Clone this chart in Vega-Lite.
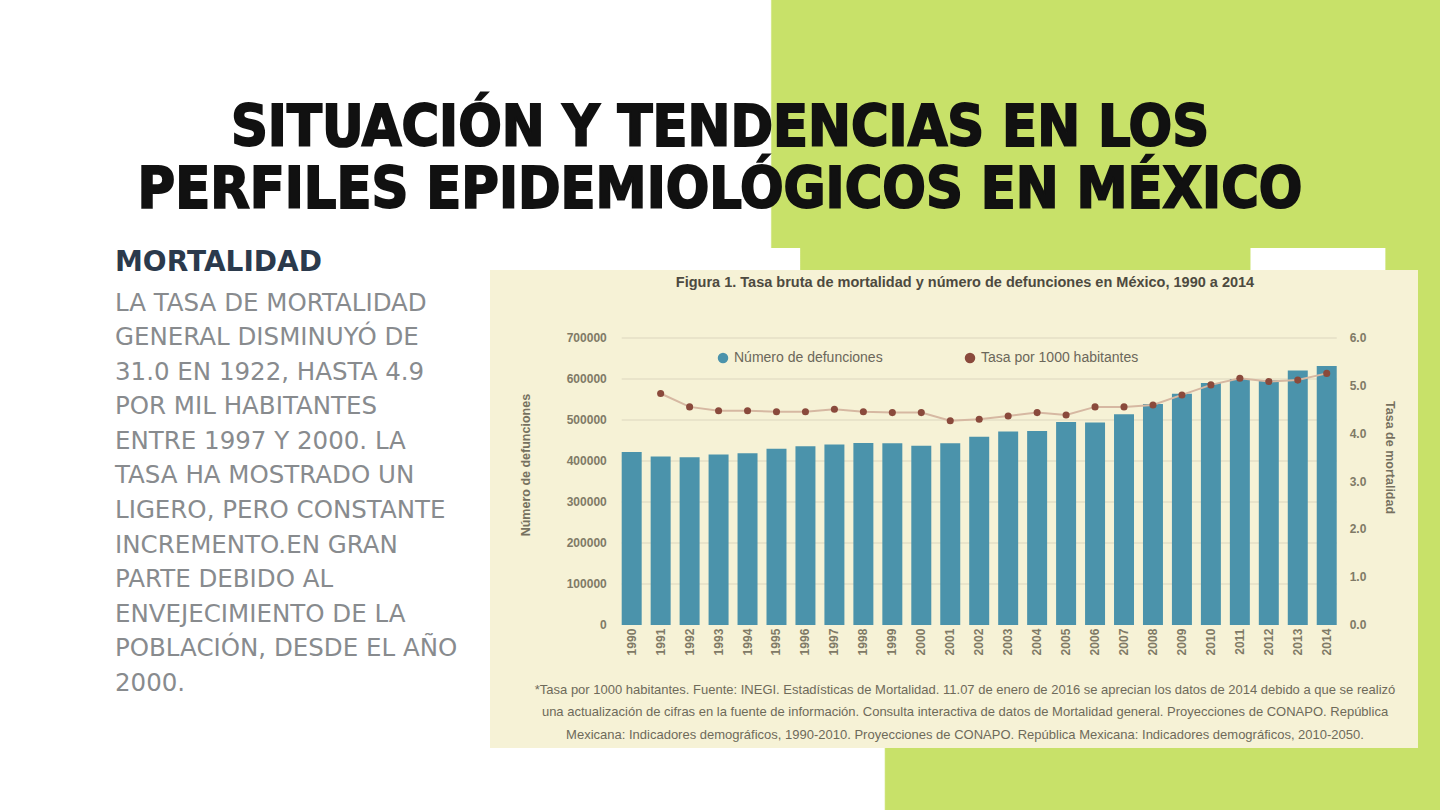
{
  "$schema": "https://vega.github.io/schema/vega-lite/v6.json",
  "background": "#ffffff",
  "padding": 0,
  "spacing": 0,
  "config": {
    "view": {"stroke": null},
    "legend": {"labelFont": "Liberation Sans"},
    "title": {"font": "Liberation Sans"},
    "text": {"font": "Liberation Sans"}
  },
  "datasets": {
    "serie": [
      {"anio": 1990, "defunciones": 422000, "tasa": null},
      {"anio": 1991, "defunciones": 411000, "tasa": 4.84},
      {"anio": 1992, "defunciones": 409000, "tasa": 4.56},
      {"anio": 1993, "defunciones": 416000, "tasa": 4.48},
      {"anio": 1994, "defunciones": 419000, "tasa": 4.48},
      {"anio": 1995, "defunciones": 430000, "tasa": 4.46},
      {"anio": 1996, "defunciones": 436000, "tasa": 4.46},
      {"anio": 1997, "defunciones": 440000, "tasa": 4.51},
      {"anio": 1998, "defunciones": 444000, "tasa": 4.46},
      {"anio": 1999, "defunciones": 443000, "tasa": 4.44},
      {"anio": 2000, "defunciones": 437000, "tasa": 4.44},
      {"anio": 2001, "defunciones": 443000, "tasa": 4.27},
      {"anio": 2002, "defunciones": 459000, "tasa": 4.30},
      {"anio": 2003, "defunciones": 472000, "tasa": 4.37},
      {"anio": 2004, "defunciones": 473000, "tasa": 4.44},
      {"anio": 2005, "defunciones": 495000, "tasa": 4.39},
      {"anio": 2006, "defunciones": 494000, "tasa": 4.56},
      {"anio": 2007, "defunciones": 514000, "tasa": 4.56},
      {"anio": 2008, "defunciones": 539000, "tasa": 4.60},
      {"anio": 2009, "defunciones": 564000, "tasa": 4.81},
      {"anio": 2010, "defunciones": 590000, "tasa": 5.02},
      {"anio": 2011, "defunciones": 600000, "tasa": 5.16},
      {"anio": 2012, "defunciones": 597000, "tasa": 5.09},
      {"anio": 2013, "defunciones": 621000, "tasa": 5.12},
      {"anio": 2014, "defunciones": 632000, "tasa": 5.26}
    ],
    "ticksIzq": [
      {"valor": 0, "etiqueta": "0"},
      {"valor": 100000, "etiqueta": "100000"},
      {"valor": 200000, "etiqueta": "200000"},
      {"valor": 300000, "etiqueta": "300000"},
      {"valor": 400000, "etiqueta": "400000"},
      {"valor": 500000, "etiqueta": "500000"},
      {"valor": 600000, "etiqueta": "600000"},
      {"valor": 700000, "etiqueta": "700000"}
    ],
    "ticksDer": [
      {"valor": 0, "etiqueta": "0.0"},
      {"valor": 1, "etiqueta": "1.0"},
      {"valor": 2, "etiqueta": "2.0"},
      {"valor": 3, "etiqueta": "3.0"},
      {"valor": 4, "etiqueta": "4.0"},
      {"valor": 5, "etiqueta": "5.0"},
      {"valor": 6, "etiqueta": "6.0"}
    ],
    "grid": [
      {"valor": 100000}, {"valor": 200000}, {"valor": 300000}, {"valor": 400000},
      {"valor": 500000}, {"valor": 600000}, {"valor": 700000}
    ],
    "titulosEje": [
      {"eje": "izq", "texto": "Número de defunciones"},
      {"eje": "der", "texto": "Tasa de mortalidad"}
    ],
    "nota": [
      {"texto": "*Tasa por 1000 habitantes. Fuente: INEGI. Estadísticas de Mortalidad. 11.07 de enero de 2016 se aprecian los datos de 2014 debido a que se realizó\nuna actualización de cifras en la fuente de información. Consulta interactiva de datos de Mortalidad general. Proyecciones de CONAPO. República\nMexicana: Indicadores demográficos, 1990-2010. Proyecciones de CONAPO. República Mexicana: Indicadores demográficos, 2010-2050."}
    ],
    "titulo": [
      {"linea": 1, "texto": "SITUACIÓN Y TENDENCIAS EN LOS"},
      {"linea": 2, "texto": "PERFILES EPIDEMIOLÓGICOS EN MÉXICO"}
    ],
    "texto": [
      {"linea": 0, "texto": "MORTALIDAD"},
      {"linea": 1, "texto": "LA TASA DE MORTALIDAD"},
      {"linea": 2, "texto": "GENERAL DISMINUYÓ DE"},
      {"linea": 3, "texto": "31.0 EN 1922, HASTA 4.9"},
      {"linea": 4, "texto": "POR MIL HABITANTES"},
      {"linea": 5, "texto": "ENTRE 1997 Y 2000. LA"},
      {"linea": 6, "texto": "TASA HA MOSTRADO UN"},
      {"linea": 7, "texto": "LIGERO, PERO CONSTANTE"},
      {"linea": 8, "texto": "INCREMENTO.EN GRAN"},
      {"linea": 9, "texto": "PARTE DEBIDO AL"},
      {"linea": 10, "texto": "ENVEJECIMIENTO DE LA"},
      {"linea": 11, "texto": "POBLACIÓN, DESDE EL AÑO"},
      {"linea": 12, "texto": "2000."}
    ]
  },
  "vconcat": [
    {
      "width": 1440,
      "height": 248,
      "view": {
        "stroke": null,
        "fill": {
          "gradient": "linear", "x1": 0, "y1": 0, "x2": 1, "y2": 0,
          "stops": [
            {"offset": 0, "color": "#ffffff"},
            {"offset": 0.535, "color": "#ffffff"},
            {"offset": 0.536, "color": "#c8e169"},
            {"offset": 1, "color": "#c8e169"}
          ]
        }
      },
      "data": {"name": "titulo"},
      "mark": {
        "type": "text",
        "font": "Liberation Sans Narrow, DejaVu Sans Condensed, Liberation Sans",
        "fontSize": 57,
        "fontWeight": "bold",
        "color": "#111111",
        "stroke": "#111111",
        "strokeWidth": 1.8,
        "align": "center",
        "baseline": "alphabetic"
      },
      "encoding": {
        "y": {"field": "linea", "type": "ordinal", "axis": null, "scale": {"type": "point", "domain": [-1, 0, 1, 2], "padding": 0.5, "align": 0.36}},
        "text": {"field": "texto", "type": "nominal"}
      }
    },
    {
      "spacing": 260,
      "bounds": "flush",
      "hconcat": [
        {
          "width": 230,
          "height": 500,
          "data": {"name": "texto"},
          "resolve": {"scale": {"y": "independent"}},
          "layer": [
            {
              "transform": [{"filter": "datum.linea == 0"}],
              "mark": {"type": "text", "align": "left", "baseline": "alphabetic", "font": "DejaVu Sans", "fontSize": 28, "fontWeight": "bold", "color": "#2b3a4c"},
              "encoding": {
                "y": {"field": "linea", "type": "ordinal", "axis": null, "scale": {"type": "point", "align": 0.046}},
                "text": {"field": "texto", "type": "nominal"}
              }
            },
            {
              "transform": [{"filter": "datum.linea > 0"}],
              "mark": {"type": "text", "align": "left", "baseline": "alphabetic", "font": "DejaVu Sans", "fontSize": 24.5, "color": "#888b8e"},
              "encoding": {
                "y": {"field": "linea", "type": "ordinal", "axis": null, "scale": {"type": "point", "domain": [0, 1, 2, 3, 4, 5, 6, 7, 8, 9, 10, 11, 12, 13], "padding": 0.737, "align": 0.554}},
                "text": {"field": "texto", "type": "nominal"}
              }
            }
          ]
        },
        {
          "spacing": 0,
          "vconcat": [
            {
              "width": 950,
              "height": 22,
              "view": {
                "stroke": null,
                "fill": {
                  "gradient": "linear", "x1": 0, "y1": 0, "x2": 1, "y2": 0,
                  "stops": [
                    {"offset": 0, "color": "#ffffff"},
                    {"offset": 0.326, "color": "#ffffff"},
                    {"offset": 0.327, "color": "#c8e169"},
                    {"offset": 0.8, "color": "#c8e169"},
                    {"offset": 0.801, "color": "#ffffff"},
                    {"offset": 0.942, "color": "#ffffff"},
                    {"offset": 0.943, "color": "#c8e169"},
                    {"offset": 1, "color": "#c8e169"}
                  ]
                }
              },
              "data": {"values": []},
              "mark": "text"
            },
            {
              "width": 950,
              "height": 478,
              "view": {
                "stroke": null,
                "fill": {
                  "gradient": "linear", "x1": 0, "y1": 0, "x2": 1, "y2": 0,
                  "stops": [
                    {"offset": 0, "color": "#f6f2d6"},
                    {"offset": 0.9768, "color": "#f6f2d6"},
                    {"offset": 0.977, "color": "#c8e169"},
                    {"offset": 1, "color": "#c8e169"}
                  ]
                }
              },
              "title": {
                "text": "Figura 1. Tasa bruta de mortalidad y número de defunciones en México, 1990 a 2014",
                "fontSize": 14.5,
                "fontWeight": "bold",
                "color": "#4d4a40",
                "offset": -20,
                "anchor": "middle"
              },
              "data": {"name": "serie"},
              "layer": [
                {
                  "layer": [
                    {
                      "data": {"name": "grid"},
                      "mark": {"type": "rule", "color": "#e4dfc6", "strokeWidth": 1.5},
                      "encoding": {
                        "x": {"datum": 1990, "type": "ordinal", "bandPosition": 0, "axis": null},
                        "x2": {"datum": 2014, "bandPosition": 1},
                        "y": {"field": "valor", "type": "quantitative", "axis": null, "scale": {"domain": [-300000, 865854], "nice": false, "zero": false}}
                      }
                    },
                    {
                      "mark": {"type": "bar"},
                      "encoding": {
                        "x": {
                          "field": "anio",
                          "type": "ordinal",
                          "axis": null,
                          "scale": {
                            "domain": [1986, 1987, 1988, 1989, 1990, 1991, 1992, 1993, 1994, 1995, 1996, 1997, 1998, 1999, 2000, 2001, 2002, 2003, 2004, 2005, 2006, 2007, 2008, 2009, 2010, 2011, 2012, 2013, 2014, 2015, 2016, 2017],
                            "paddingInner": 0.31,
                            "paddingOuter": 0.557,
                            "align": 0.4917
                          }
                        },
                        "y": {"field": "defunciones", "type": "quantitative", "axis": null, "scale": {"domain": [-300000, 865854], "nice": false, "zero": false}},
                        "color": {
                          "datum": "Número de defunciones",
                          "type": "nominal",
                          "scale": {"domain": ["Número de defunciones", "Tasa por 1000 habitantes"], "range": ["#4b93ab", "#8a4a3c"]},
                          "legend": {
                            "orient": "none",
                            "legendX": 716,
                            "legendY": 351,
                            "direction": "horizontal",
                            "title": null,
                            "symbolType": "circle",
                            "symbolSize": 110,
                            "labelFontSize": 14,
                            "labelColor": "#6b675a",
                            "columnPadding": 80,
                            "labelLimit": 300,
                            "padding": 0
                          }
                        }
                      }
                    },
                    {
                      "data": {"name": "ticksIzq"},
                      "mark": {"type": "text", "align": "right", "baseline": "middle", "fontSize": 12, "fontWeight": "bold", "color": "#807a66"},
                      "encoding": {
                        "x": {"datum": 1989, "type": "ordinal", "bandPosition": 0.7, "axis": null},
                        "y": {"field": "valor", "type": "quantitative", "axis": null, "scale": {"domain": [-300000, 865854], "nice": false, "zero": false}},
                        "text": {"field": "etiqueta", "type": "nominal"}
                      }
                    },
                    {
                      "mark": {"type": "text", "align": "right", "baseline": "middle", "angle": 270, "fontSize": 12, "fontWeight": "bold", "color": "#807a66"},
                      "encoding": {
                        "x": {"field": "anio", "type": "ordinal", "axis": null},
                        "y": {"datum": -9000, "type": "quantitative", "axis": null, "scale": {"domain": [-300000, 865854], "nice": false, "zero": false}},
                        "text": {"field": "anio", "type": "ordinal"}
                      }
                    },
                    {
                      "data": {"name": "titulosEje"},
                      "transform": [{"filter": "datum.eje == 'izq'"}],
                      "mark": {"type": "text", "align": "center", "baseline": "middle", "angle": 270, "fontSize": 12.5, "fontWeight": "bold", "color": "#76715f"},
                      "encoding": {
                        "x": {"datum": 1986, "type": "ordinal", "bandPosition": 1, "axis": null},
                        "y": {"datum": 390000, "type": "quantitative", "axis": null, "scale": {"domain": [-300000, 865854], "nice": false, "zero": false}},
                        "text": {"field": "texto", "type": "nominal"}
                      }
                    },
                    {
                      "data": {"name": "nota"},
                      "mark": {"type": "text", "lineBreak": "\n", "fontSize": 13, "lineHeight": 22.5, "color": "#6e6a5a", "align": "center", "baseline": "middle"},
                      "encoding": {
                        "y": {"datum": -158500, "type": "quantitative", "axis": null, "scale": {"domain": [-300000, 865854], "nice": false, "zero": false}},
                        "text": {"field": "texto", "type": "nominal"}
                      }
                    }
                  ]
                },
                {
                  "layer": [
                    {
                      "mark": {"type": "line", "color": "#d6b8a2", "strokeWidth": 2},
                      "encoding": {
                        "x": {"field": "anio", "type": "ordinal", "axis": null},
                        "y": {"field": "tasa", "type": "quantitative", "axis": null, "scale": {"domain": [-2.5714, 7.4216], "nice": false, "zero": false}}
                      }
                    },
                    {
                      "mark": {"type": "point", "filled": true, "size": 50, "opacity": 1},
                      "encoding": {
                        "x": {"field": "anio", "type": "ordinal", "axis": null},
                        "y": {"field": "tasa", "type": "quantitative", "axis": null, "scale": {"domain": [-2.5714, 7.4216], "nice": false, "zero": false}},
                        "color": {"datum": "Tasa por 1000 habitantes", "type": "nominal"}
                      }
                    },
                    {
                      "data": {"name": "ticksDer"},
                      "mark": {"type": "text", "align": "left", "baseline": "middle", "fontSize": 12, "fontWeight": "bold", "color": "#807a66"},
                      "encoding": {
                        "x": {"datum": 2015, "type": "ordinal", "bandPosition": 0.2, "axis": null},
                        "y": {"field": "valor", "type": "quantitative", "axis": null, "scale": {"domain": [-2.5714, 7.4216], "nice": false, "zero": false}},
                        "text": {"field": "etiqueta", "type": "nominal"}
                      }
                    },
                    {
                      "data": {"name": "titulosEje"},
                      "transform": [{"filter": "datum.eje == 'der'"}],
                      "mark": {"type": "text", "align": "center", "baseline": "middle", "angle": 90, "fontSize": 12.5, "fontWeight": "bold", "color": "#76715f"},
                      "encoding": {
                        "x": {"datum": 2016, "type": "ordinal", "bandPosition": 0.75, "axis": null},
                        "y": {"datum": 3.5, "type": "quantitative", "axis": null, "scale": {"domain": [-2.5714, 7.4216], "nice": false, "zero": false}},
                        "text": {"field": "texto", "type": "nominal"}
                      }
                    }
                  ]
                }
              ],
              "resolve": {"scale": {"y": "independent"}}
            }
          ]
        }
      ]
    },
    {
      "width": 1440,
      "height": 62,
      "view": {
        "stroke": null,
        "fill": {
          "gradient": "linear", "x1": 0, "y1": 0, "x2": 1, "y2": 0,
          "stops": [
            {"offset": 0, "color": "#ffffff"},
            {"offset": 0.614, "color": "#ffffff"},
            {"offset": 0.615, "color": "#c8e169"},
            {"offset": 1, "color": "#c8e169"}
          ]
        }
      },
      "data": {"values": []},
      "mark": "text"
    }
  ]
}
